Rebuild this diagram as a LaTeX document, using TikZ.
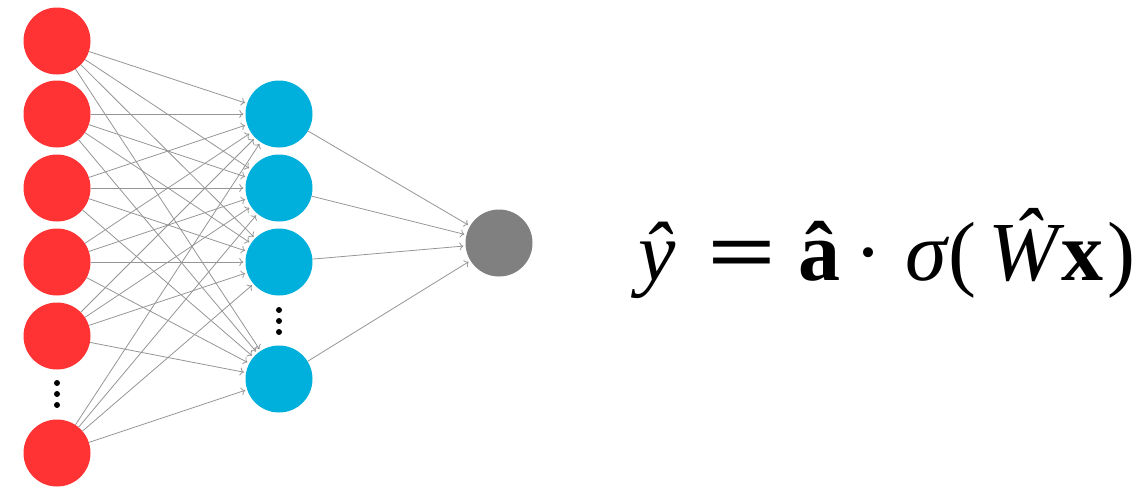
\documentclass[tikz,border=0pt]{standalone}
\usepackage{fontspec}
\usepackage{graphicx}
\setmainfont{Liberation Serif}
\usetikzlibrary{arrows.meta}
\definecolor{nred}{HTML}{FF3333}
\definecolor{nblue}{HTML}{00B0DC}
\definecolor{ngray}{HTML}{808080}
\definecolor{edgec}{HTML}{959595}
\newcommand{\putat}[2]{\makebox[0pt][l]{\hspace{#1pt}#2}}
\begin{document}
\begin{tikzpicture}[x=1pt,y=-1pt,
  neuron/.style={circle,minimum size=67pt,inner sep=0pt,draw=none},
  inp/.style={neuron,fill=nred},
  hid/.style={neuron,fill=nblue},
  outn/.style={neuron,fill=ngray},
  conn/.style={draw=edgec,line width=0.8pt,-{To[length=4pt,width=8pt]},shorten >=2pt},
  vdot/.style={circle,fill=black,minimum size=6pt,inner sep=0pt},
  eqn/.style={anchor=base west,inner sep=0pt,font=\fontsize{84}{100}\selectfont}]
\useasboundingbox (0,0) rectangle (1148,491);
% input layer
\node[inp] (r1) at (57,41) {};
\node[inp] (r2) at (57,114) {};
\node[inp] (r3) at (57,188) {};
\node[inp] (r4) at (57,262) {};
\node[inp] (r5) at (57,336) {};
\node[inp] (r6) at (57,453) {};
\node[vdot] (rd1) at (57,383) {};
\node[vdot] (rd2) at (57,394) {};
\node[vdot] (rd3) at (57,405) {};
% hidden layer
\node[hid] (b1) at (279,114) {};
\node[hid] (b2) at (279,188) {};
\node[hid] (b3) at (279,262) {};
\node[hid] (b4) at (279,379) {};
\node[vdot] (bd1) at (279,310) {};
\node[vdot] (bd2) at (279,321) {};
\node[vdot] (bd3) at (279,332) {};
% output
\node[outn] (o) at (499,243) {};
% connections
\foreach \i in {1,...,6}{
  \foreach \j in {1,...,4}{
    \draw[conn] (r\i) -- (b\j);
  }
}
\foreach \j in {1,...,4}{
  \draw[conn] (b\j) -- (o);
}
% equation
\node[eqn] (eq) at (630,280) {%
  \putat{8}{\textit{ŷ}}%
  \putat{77}{\scalebox{1.45}[1]{\textbf{=}}}%
  \putat{168}{\textbf{â}}%
  \putat{224}{·}%
  \putat{275}{\textit{σ}}%
  \putat{318}{(}%
  \putat{358}{\textit{Ŵ}}%
  \putat{431}{\textbf{x}}%
  \putat{477}{)}%
  \hspace{506pt}};
\end{tikzpicture}
\end{document}
